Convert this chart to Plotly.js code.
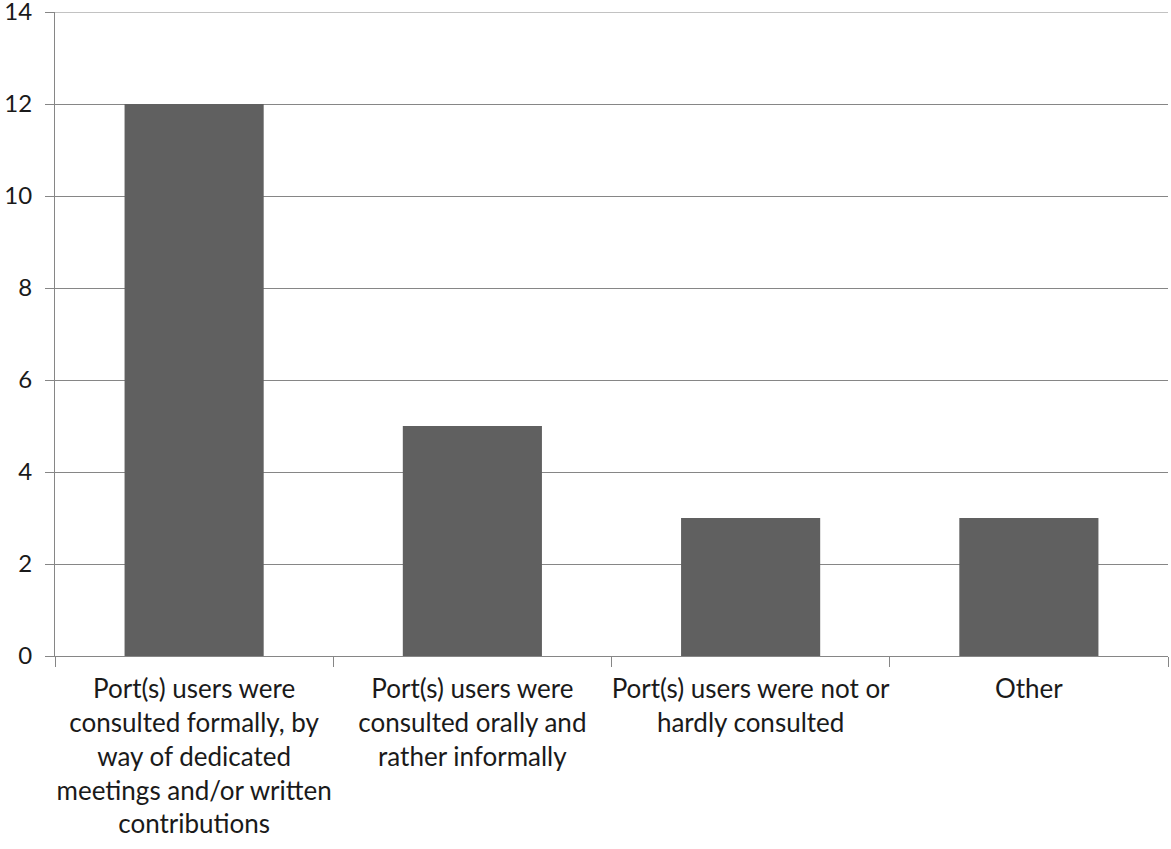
<!DOCTYPE html>
<html>
<head>
<meta charset="utf-8">
<script src="https://cdn.plot.ly/plotly-3.0.1.min.js"></script>
<style>html,body{margin:0;padding:0;background:#fff;}#chart{width:1171px;height:849px;}</style>
</head>
<body>
<div id="chart"></div>
<script>
const categories = [
  "Port(s) users were<br>consulted formally, by<br>way of dedicated<br>meetings and/or written<br>contributions",
  "Port(s) users were<br>consulted orally and<br>rather informally",
  "Port(s) users were not or<br>hardly consulted",
  "Other"
];
const values = [12, 5, 3, 3];
const yTicks = [0, 2, 4, 6, 8, 10, 12, 14];

const FAMILY = "Lato, Open Sans, sans-serif";
const GRID = "#868686";

Plotly.newPlot("chart", [{
  type: "bar",
  x: categories,
  y: values,
  marker: {color: "#606060"},
  hoverinfo: "skip"
}], {
  width: 1171,
  height: 849,
  margin: {l: 55, r: 3, t: 12, b: 193},
  paper_bgcolor: "#ffffff",
  plot_bgcolor: "#ffffff",
  bargap: 0.5,
  font: {family: FAMILY, size: 24, color: "#1a1a1a"},
  showlegend: false,
  shapes: [{
    type: "line", xref: "paper", yref: "y",
    x0: 0, x1: 1, y0: yTicks[yTicks.length - 1], y1: yTicks[yTicks.length - 1],
    line: {color: GRID, width: 1}
  }],
  xaxis: {
    type: "category",
    tickson: "boundaries",
    ticks: "outside",
    ticklen: 10,
    tickcolor: GRID,
    tickangle: 0,
    showline: true,
    linecolor: GRID,
    linewidth: 1,
    showgrid: false,
    ticklabelstandoff: 10,
    ticklabeloverflow: "allow",
    tickfont: {family: FAMILY, size: 26, color: "#1a1a1a"},
    fixedrange: true
  },
  yaxis: {
    range: [0, 14],
    tickvals: yTicks,
    ticktext: yTicks.map(String),
    ticks: "outside",
    ticklen: 9,
    tickcolor: GRID,
    showline: true,
    linecolor: GRID,
    linewidth: 1,
    showgrid: true,
    gridcolor: GRID,
    gridwidth: 1,
    zeroline: false,
    ticklabelstandoff: 8,
    ticklabeloverflow: "allow",
    tickfont: {family: FAMILY, size: 24, color: "#1a1a1a"},
    fixedrange: true
  }
}, {displayModeBar: false, staticPlot: true});
</script>
</body>
</html>
